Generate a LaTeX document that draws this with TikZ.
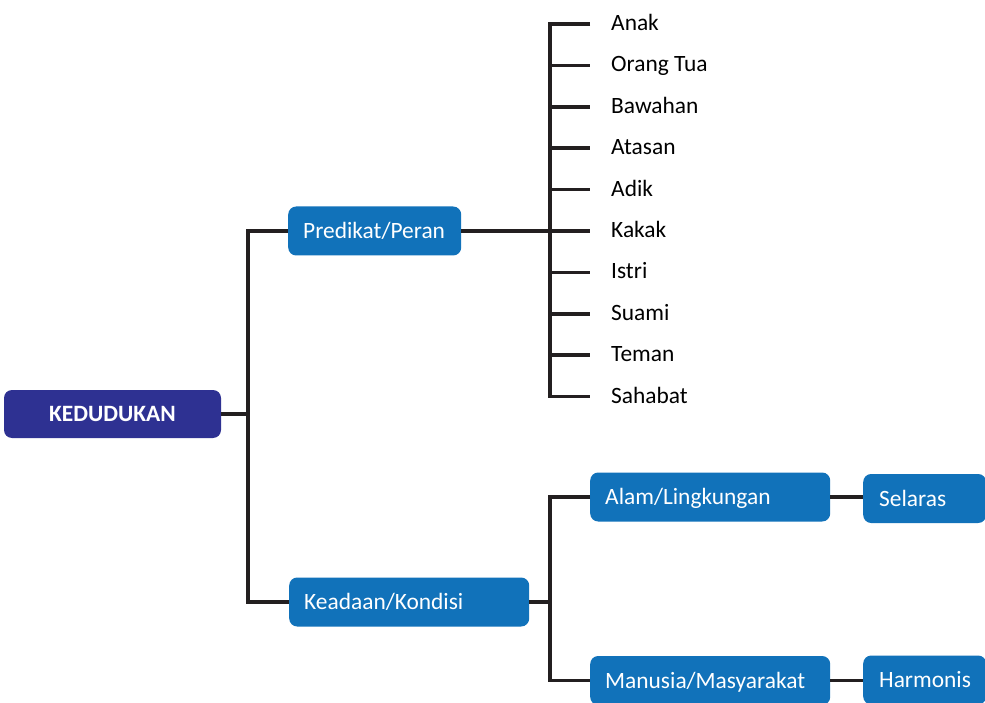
\documentclass[tikz,border=0pt]{standalone}
\usepackage{fontspec}
\setmainfont{Carlito}
\definecolor{kedblue}{HTML}{2E3192}
\definecolor{boxblue}{HTML}{1172BA}
\definecolor{linegray}{HTML}{231F20}
\tikzset{
  box/.style={rounded corners=8pt, fill=boxblue, text=white, anchor=west,
    minimum height=49pt, inner xsep=15pt, inner ysep=0pt, align=left,
    text height=15pt, text depth=0pt, font=\fontsize{23.4}{27}\selectfont},
  item/.style={anchor=west, inner sep=0pt, text=black,
    text height=16.5pt, text depth=3.5pt, font=\fontsize{23.4}{27}\selectfont},
  link/.style={draw=linegray, line width=3.6pt}
}
\begin{document}
\begin{tikzpicture}[x=1pt,y=-1pt]
\useasboundingbox (0,0) rectangle (985,703);
% boxes
\node[box, fill=kedblue, anchor=center, minimum width=217pt, minimum height=48pt,
  align=center, font=\fontsize{23.4}{27}\selectfont\bfseries] (ked) at (112.5,414) {KEDUDUKAN};
\node[box, text width=143pt] (peran) at (288,231) {Predikat/Peran};
\node[box, text width=210pt] (kondisi) at (289,602) {Keadaan/Kondisi};
\node[box, text width=210pt] (alam) at (590,497) {Alam/Lingkungan};
\node[box, text width=210pt] (manusia) at (590,680.5) {Manusia/Masyarakat};
\node[box, text width=91pt, inner xsep=16pt] (selaras) at (863,498.5) {Selaras};
\node[box, text width=91pt, inner xsep=16pt] (harmonis) at (863,680) {Harmonis};
% items
\node[item] (anak) at (611,24) {Anak};
\node[item] (ortu) at (611,65.4) {Orang Tua};
\node[item] (bawahan) at (611,106.8) {Bawahan};
\node[item] (atasan) at (611,148.2) {Atasan};
\node[item] (adik) at (611,189.6) {Adik};
\node[item] (kakak) at (611,231) {Kakak};
\node[item] (istri) at (611,272.4) {Istri};
\node[item] (suami) at (611,313.8) {Suami};
\node[item] (teman) at (611,355.2) {Teman};
\node[item] (sahabat) at (611,396.6) {Sahabat};
% spines
\coordinate (trunk) at (248,414);
\coordinate (fork) at (550,231);
\coordinate (split) at (550,602);
\draw[link] (ked.east) -- (trunk);
\draw[link] (peran.west) -| (trunk |- kondisi.west) -- (kondisi.west);
\draw[link] (peran.east) -- (fork);
\draw[link] ([xshift=40pt]fork |- anak.west) -| (fork |- sahabat.west) -- ++(40,0);
\foreach \n in {ortu,bawahan,atasan,adik,kakak,istri,suami,teman}
  \draw[link] (fork |- \n.west) -- ++(40,0);
\draw[link] (kondisi.east |- split) -- (split);
\draw[link] (alam.west) -| (split |- manusia.west) -- (manusia.west);
\draw[link] (alam.east) -- (selaras.west |- alam.east);
\draw[link] (manusia.east) -- (harmonis.west |- manusia.east);
\end{tikzpicture}
\end{document}
